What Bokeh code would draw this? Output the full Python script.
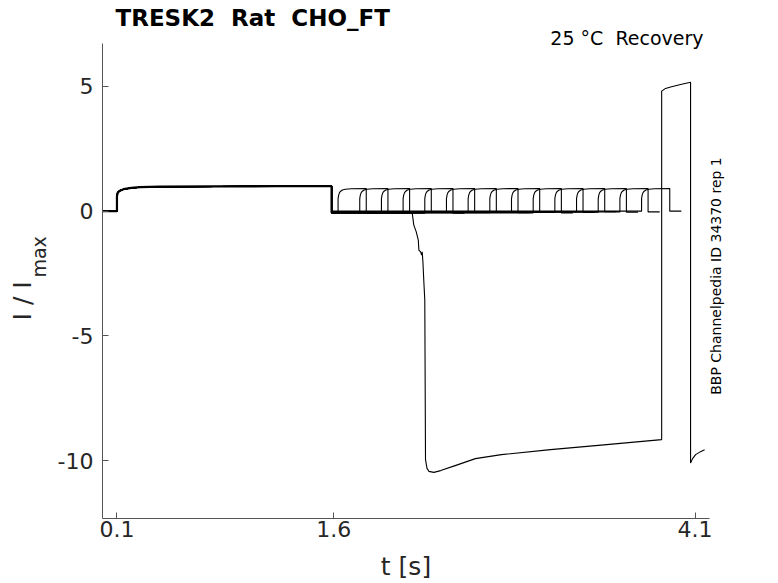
from math import pi
from bokeh.plotting import figure
from bokeh.models import FixedTicker, Range1d, LinearAxis, Title, Label
from bokeh.embed import file_html
from bokeh.resources import INLINE

# ---- data ----
x_ticks = [0.1, 1.6, 4.1]
y_ticks = [-10, -5, 0, 5]
y_tick_labels = ["-10", "-5", "0", "5"]

# conditioning pulse (shared by all sweeps)
first_t = [0.0, 0.1, 0.1, 0.105, 0.12, 0.145, 0.2, 0.26, 0.4, 0.8, 1.2, 1.585]
first_v = [0.0, 0.0, 0.6, 0.74, 0.82, 0.88, 0.93, 0.96, 0.98, 0.99, 1.0, 1.0]
first_end = 1.585

# recovery test pulse starts of the regular sweeps
pulse_starts = [1.63, 1.78, 1.93, 2.08, 2.23, 2.38, 2.53, 2.68, 2.83, 2.98,
                3.13, 3.28, 3.43, 3.58, 3.73]
sweep_base = [-0.07, -0.05, -0.06, -0.04, -0.08, -0.05, -0.03, -0.06, -0.04,
              -0.07, -0.05, -0.02, -0.04, -0.03, 0.0]
# test pulse shape (time after pulse start, I/Imax)
pulse_dt = [0.0, 0.004, 0.01, 0.018, 0.03, 0.05, 0.09, 0.195]
pulse_v = [0.5, 0.64, 0.74, 0.8, 0.85, 0.88, 0.9, 0.91]
tail_len = 0.08

# the sweep that breaks down
anom_base = -0.06
anom_t = [2.143, 2.154, 2.171, 2.185, 2.189, 2.201, 2.208, 2.212, 2.217, 2.224,
          2.230, 2.235, 2.245, 2.258, 2.293, 2.34, 2.44, 2.58, 2.76, 3.1, 3.45,
          3.869, 3.869, 3.896, 3.931, 4.0, 4.069, 4.069, 4.083, 4.104, 4.138, 4.166]
anom_v = [-0.08, -0.56, -0.83, -1.16, -1.56, -1.63, -1.76, -1.63, -2.03, -2.89,
          -3.56, -9.96, -10.3, -10.43, -10.47, -10.4, -10.2, -9.92, -9.76, -9.56, -9.38,
          -9.16, 4.81, 4.92, 4.98, 5.08, 5.17, -10.1, -9.92, -9.76, -9.64, -9.56]

# ---- build sweeps ----
xs, ys = [], []
for s, b in zip(pulse_starts, sweep_base):
    t = list(first_t) + [first_end]
    v = list(first_v) + [b]
    t += [s] + [s + d for d in pulse_dt] + [s + pulse_dt[-1], s + pulse_dt[-1] + tail_len]
    v += [b] + list(pulse_v) + [b, b]
    xs.append(t)
    ys.append(v)
t = list(first_t) + [first_end] + anom_t
v = list(first_v) + [anom_base] + anom_v
xs.append(t)
ys.append(v)

FONT = "DejaVu Sans"
TXT = "#262626"
NB = "\u00a0"

p = figure(width=778, height=583,
           title=Title(text="TRESK2" + NB + " Rat" + NB + " CHO_FT", align="left",
                       offset=13, standoff=0, text_font=FONT, text_font_size="23px",
                       text_font_style="bold", text_color="black"),
           x_range=Range1d(0, 4.2), y_range=Range1d(-12.32, 6.72),
           output_backend="svg", toolbar_location=None,
           min_border_left=102, min_border_right=69,
           min_border_top=43, min_border_bottom=64)
p.add_layout(Title(text="25 °C" + NB + " Recovery", align="right", offset=6, standoff=-11,
                   text_font=FONT, text_font_size="19px", text_font_style="normal",
                   text_color="black"), "above")
p.grid.visible = False
p.outline_line_color = None
p.background_fill_color = "white"

p.multi_line(xs, ys, line_color="black", line_width=1.1)
p.line(first_t + [first_end, first_end], first_v + [1.0, -0.06],
       line_color="black", line_width=2.2)

ax_col = "#555555"
for ax in (p.xaxis[0], p.yaxis[0]):
    ax.axis_line_color = ax_col
    ax.major_tick_line_color = ax_col
    ax.major_tick_in = 6
    ax.major_tick_out = 0
    ax.minor_tick_line_color = None
    ax.major_label_text_font = FONT
    ax.major_label_text_font_size = "22px"
    ax.major_label_text_color = TXT
    ax.axis_label_text_font = FONT
    ax.axis_label_text_font_style = "normal"
    ax.axis_label_text_color = TXT
p.xaxis.ticker = FixedTicker(ticks=x_ticks)
p.yaxis.ticker = FixedTicker(ticks=y_ticks)
p.yaxis.major_label_overrides = {t_: l for t_, l in zip(y_ticks, y_tick_labels)}
p.xaxis.major_label_standoff = 2
p.yaxis.major_label_standoff = 9

p.xaxis.axis_label = "t [s]"
p.xaxis.axis_label_text_font_size = "25px"
p.xaxis.axis_label_standoff = 12

# subscript part of the y label sits next to the tick labels
p.yaxis.axis_label = NB * 8 + "max"
p.yaxis.axis_label_text_font_size = "19px"
p.yaxis.axis_label_standoff = 5

# main part of the y label on an outer, tick-less axis
ylab = LinearAxis(ticker=FixedTicker(ticks=[]), axis_line_color=None,
                  major_tick_line_color=None, minor_tick_line_color=None,
                  axis_label="I / I" + NB * 5, axis_label_text_font=FONT,
                  axis_label_text_font_size="25px", axis_label_text_font_style="normal",
                  axis_label_text_color=TXT, axis_label_standoff=-12)
p.add_layout(ylab, "left")

# right-hand note, placed in the right side panel so it is not clipped
note = Label(x=4.2425, y=-7.36, text="BBP Channelpedia ID 34370 rep 1",
             text_font=FONT, text_font_size="14px", text_color="black",
             text_align="left", text_baseline="alphabetic", angle=pi / 2)
p.add_layout(note, "right")

open("out.html", "w").write(file_html(p, INLINE))
